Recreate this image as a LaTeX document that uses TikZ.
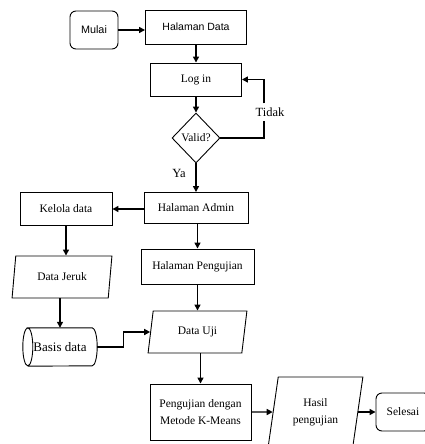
\documentclass[tikz,border=0pt]{standalone}
\usepackage{fontspec}
\setmainfont{Liberation Serif}
\newfontfamily\arialfont{Liberation Sans}
\usetikzlibrary{shapes.geometric,arrows.meta}

\begin{document}
\begin{tikzpicture}[x=1pt, y=1pt,
        proses/.style={draw, line width=0.9pt, rectangle, align=center, inner sep=2pt,
            font=\fontsize{11.5}{17}\selectfont},
        terminal/.style={proses, rounded corners=6pt},
        dataio/.style={proses, trapezium, trapezium left angle=80, trapezium right angle=100,
            trapezium stretches=true},
        keputusan/.style={proses, diamond, inner sep=0pt},
        garis/.style={line width=0.9pt},
        panah/.style={-{Triangle[length=6pt, width=6pt]}, line width=1.4pt},
        teks/.style={font=\fontsize{12.5}{12.5}\selectfont, inner sep=4pt, fill=white}]

        \useasboundingbox (0,0) rectangle (424,-444);

        \node[terminal, minimum width=48, minimum height=38, font=\arialfont\fontsize{10.8}{10.8}\selectfont]
            (mulai) at (94, -30) {Mulai};
        \node[proses, minimum width=101, minimum height=34, font=\arialfont\fontsize{10.5}{10.5}\selectfont]
            (hdata) at (196, -27) {Halaman Data};
        \node[proses, minimum width=91, minimum height=33] (login) at (196, -79.5) {Log in};
        \node[keputusan, minimum width=48, minimum height=50] (valid) at (196, -138) {Valid?};

        \node[teks] (tidak) at (270, -112) {Tidak};
        \node[teks, fill=none] (ya) at (179, -173) {Ya};
        \coordinate (belok) at (264, -138);

        \node[proses, minimum width=104, minimum height=31] (admin) at (196, -208) {Halaman Admin};
        \node[proses, minimum width=92, minimum height=33] (kelola) at (66, -209) {Kelola data};
        \node[proses, minimum width=113, minimum height=35] (hpengujian) at (197.5, -266.5) {Halaman Pengujian};

        \node[dataio, minimum width=100, minimum height=42] (jeruk) at (62, -277) {Data Jeruk};
        \node[minimum width=74, minimum height=38, font=\fontsize{13}{13}\selectfont]
            (basis) at (60, -347) {Basis data};
        \node[dataio, minimum width=99, minimum height=42] (uji) at (197.5, -332) {Data Uji};

        \node[proses, minimum width=101, minimum height=56] (kmeans) at (200.5, -412)
            {Pengujian dengan\\Metode K-Means};
        \node[dataio, trapezium left angle=78, trapezium right angle=102, minimum width=95, minimum height=70]
            (hasil) at (315.5, -412) {Hasil\\pengujian};
        \node[terminal, minimum width=54, minimum height=38] (selesai) at (403, -412) {Selesai};

        % tabung basis data
        \draw[garis] ([xshift=5pt]basis.north west)
            arc[start angle=90, end angle=270, x radius=5pt, y radius=19pt]
            arc[start angle=-90, end angle=90, x radius=5pt, y radius=19pt]
            -- ([xshift=-5pt]basis.north east)
            arc[start angle=90, end angle=-90, x radius=5pt, y radius=19pt]
            -- ([xshift=5pt]basis.south west);

        % alur utama
        \draw[panah] (mulai) -- (mulai -| hdata.west);
        \draw[panah] (hdata) -- (login);
        \draw[panah] (login) -- (valid);
        \draw[line width=1.4pt] (valid.east) -- (belok) -- (belok |- tidak.south);
        \draw[panah] (belok |- tidak.north) |- (login.east);
        \draw[panah] (valid) -- (admin);

        \draw[panah] (admin.west |- kelola) -- (kelola);
        \draw[panah] (kelola) -- (kelola |- jeruk.north);
        \draw[panah] (jeruk.south -| basis) -- (basis);
        \draw[panah] (basis.east) -- ++(26, 0) |- (uji.west);

        \draw[panah] (hpengujian |- admin.south) -- (hpengujian);
        \draw[panah] (hpengujian) -- (hpengujian |- uji.north);
        \draw[panah] (uji.south -| kmeans) -- (kmeans);
        \draw[panah] (kmeans) -- (hasil);
        \draw[panah] (hasil) -- (selesai);
\end{tikzpicture}
\end{document}
